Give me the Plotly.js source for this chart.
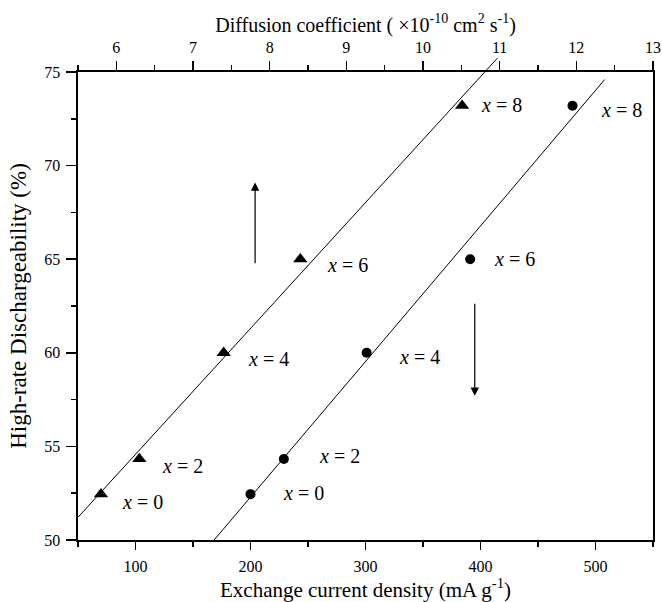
<!DOCTYPE html>
<html>
<head>
<meta charset="utf-8">
<script src="https://cdn.plot.ly/plotly-3.0.1.min.js"></script>
<style>html,body{margin:0;padding:0;background:#fff;}#chart{width:662px;height:602px;}</style>
</head>
<body>
<div id="chart"></div>
<script>
// ---- data ----
const contentX = [0, 2, 4, 6, 8];                       // x in the alloy formula
const hrd = [52.45, 54.33, 60.0, 65.0, 73.2];           // High-rate dischargeability (%)
const diffusionCoef = [5.80, 6.30, 7.40, 8.40, 10.51];  // ×10^-10 cm2 s-1 (top axis, triangles)
const exchangeCurrent = [200, 229, 301, 391, 480];      // mA g-1 (bottom axis, circles)

const bottomTicks = [100, 200, 300, 400, 500];
const leftTicks = [50, 55, 60, 65, 70, 75];
const topTicks = [6, 7, 8, 9, 10, 11, 12, 13];

const diffusionFitEnd = [5.5, 10.97];   // extent of fitted line (top-axis units)
const exchangeFitEnd = 508;             // end of fitted line (bottom-axis units)

const upArrow = {x: 204, from: 64.7, to: 69.1};
const downArrow = {x: 395, from: 62.7, to: 57.7};

// ---- helpers ----
function linfit(xs, ys) {
  const n = xs.length;
  const mx = xs.reduce((a, b) => a + b, 0) / n;
  const my = ys.reduce((a, b) => a + b, 0) / n;
  let sxy = 0, sxx = 0;
  for (let i = 0; i < n; i++) { sxy += (xs[i] - mx) * (ys[i] - my); sxx += (xs[i] - mx) ** 2; }
  const m = sxy / sxx;
  return {m: m, b: my - m * mx};
}

const fitD = linfit(diffusionCoef, hrd);
const fitE = linfit(exchangeCurrent, hrd);

const dLineX = diffusionFitEnd;
const dLineY = dLineX.map(v => fitD.m * v + fitD.b);
const eStart = (50 - fitE.b) / fitE.m;
const eLineX = [eStart, exchangeFitEnd];
const eLineY = eLineX.map(v => fitE.m * v + fitE.b);

// ---- layout geometry ----
const M = {l: 78, r: 9, t: 50, b: 62};
const plotH = 602 - M.t - M.b;
const D = 1 - 22 / plotH;         // main y-domain top
const yRange = [50, 75];
const y3Top = yRange[0] + (yRange[1] - yRange[0]) / D;

const FONT = 'Liberation Serif, Times New Roman, serif';

const traces = [
  {x: dLineX, y: dLineY, xaxis: 'x3', yaxis: 'y3', mode: 'lines',
   line: {color: '#000', width: 1}, hoverinfo: 'skip', showlegend: false},
  {x: eLineX, y: eLineY, xaxis: 'x', yaxis: 'y', mode: 'lines',
   line: {color: '#000', width: 1}, hoverinfo: 'skip', showlegend: false},
  {x: exchangeCurrent, y: hrd, xaxis: 'x', yaxis: 'y', mode: 'markers',
   marker: {symbol: 'circle', size: 10, color: '#000'}, showlegend: false},
  {x: diffusionCoef, y: hrd, xaxis: 'x2', yaxis: 'y', mode: 'markers',
   marker: {symbol: 'triangle-up', size: 12.5, color: '#000'}, showlegend: false}
];

// label offsets (px): [xshift, yshift]
const triLabelShift = [[19, -8], [21, -7], [22, -6], [25, -6], [17, 1]];
const cirLabelShift = [[30, 1], [33, 3], [30, -4], [22, 0], [26, -4]];

const annotations = [];
contentX.forEach((c, i) => {
  annotations.push({xref: 'x2', yref: 'y', x: diffusionCoef[i], y: hrd[i],
    text: '<i>x</i> = ' + c, showarrow: false, xanchor: 'left', yanchor: 'middle',
    xshift: triLabelShift[i][0], yshift: triLabelShift[i][1],
    font: {family: FONT, size: 20, color: '#000'}});
  annotations.push({xref: 'x', yref: 'y', x: exchangeCurrent[i], y: hrd[i],
    text: '<i>x</i> = ' + c, showarrow: false, xanchor: 'left', yanchor: 'middle',
    xshift: cirLabelShift[i][0], yshift: cirLabelShift[i][1],
    font: {family: FONT, size: 20, color: '#000'}});
});
[upArrow, downArrow].forEach(a => {
  annotations.push({xref: 'x', yref: 'y', axref: 'x', ayref: 'y',
    x: a.x, y: a.to, ax: a.x, ay: a.from, text: '', showarrow: true,
    arrowhead: 2, arrowsize: 1.4, arrowwidth: 1.2, arrowcolor: '#000'});
});

const axisCommon = {
  showgrid: false, zeroline: false, showline: true, linecolor: '#000', linewidth: 1.6,
  ticks: 'outside', tickcolor: '#000', tickwidth: 1.5,
  tickfont: {family: FONT, size: 16, color: '#000'}
};

const layout = {
  width: 662, height: 602,
  margin: M,
  paper_bgcolor: '#fff', plot_bgcolor: 'rgba(0,0,0,0)',
  font: {family: FONT, color: '#000'},
  showlegend: false,
  xaxis: Object.assign({}, axisCommon, {
    domain: [0, 1], range: [50, 550], anchor: 'y', side: 'bottom',
    tickmode: 'array', tickvals: bottomTicks, ticktext: bottomTicks.map(String),
    ticklen: 8, ticklabelstandoff: 3,
    minor: {tickmode: 'linear', tick0: 0, dtick: 50, ticks: 'outside', ticklen: 5, tickwidth: 1.5, tickcolor: '#000'},
    title: {text: 'Exchange current density (mA g<sup>-1</sup>)', font: {family: FONT, size: 21, color: '#000'}, standoff: 10}
  }),
  yaxis: Object.assign({}, axisCommon, {
    domain: [0, D], range: yRange, anchor: 'x', mirror: true,
    tickmode: 'array', tickvals: leftTicks, ticktext: leftTicks.map(String),
    ticklen: 10, ticklabelstandoff: 3,
    minor: {tickmode: 'linear', tick0: 0, dtick: 2.5, ticks: 'outside', ticklen: 5, tickwidth: 1.5, tickcolor: '#000'},
    title: {text: 'High-rate Dischargeability (%)', font: {family: FONT, size: 23, color: '#000'}, standoff: 11}
  }),
  xaxis2: Object.assign({}, axisCommon, {
    overlaying: 'x', side: 'top', anchor: 'y', range: [5.5, 13],
    tickmode: 'array', tickvals: topTicks, ticktext: topTicks.map(String),
    ticklen: 9, ticklabelstandoff: 2,
    minor: {tickmode: 'linear', tick0: 0, dtick: 0.5, ticks: 'outside', ticklen: 5, tickwidth: 1.5, tickcolor: '#000'},
    title: {text: 'Diffusion coefficient ( ×10<sup>-10</sup> cm<sup>2</sup> s<sup>-1</sup>)', font: {family: FONT, size: 20, color: '#000'}, standoff: 1}
  }),
  xaxis3: {domain: [0, 1], range: [5.5, 13], anchor: 'y3', visible: false, showgrid: false, zeroline: false, fixedrange: true},
  yaxis3: {domain: [0, 1], range: [yRange[0], y3Top], anchor: 'x3', visible: false, showgrid: false, zeroline: false, fixedrange: true},
  annotations: annotations
};

Plotly.newPlot('chart', traces, layout, {staticPlot: true, displayModeBar: false});
</script>
</body>
</html>
